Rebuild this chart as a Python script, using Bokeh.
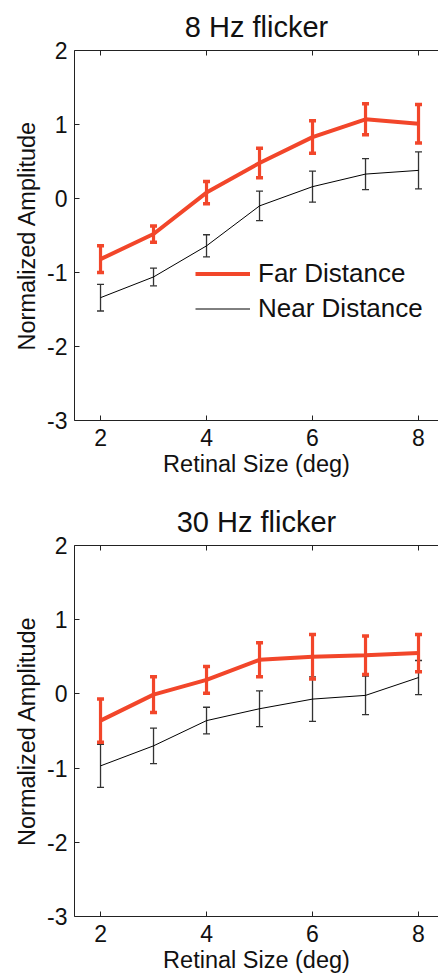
from bokeh.plotting import figure
from bokeh.models import (ColumnDataSource, Whisker, TeeHead, LinearAxis, Legend,
                          LegendItem, Range1d, FixedTicker)
from bokeh.layouts import column
from bokeh.embed import file_html
from bokeh.resources import INLINE

# ---------------- data ----------------
retinal_size = [2, 3, 4, 5, 6, 7, 8]

far_8hz = [-0.82, -0.48, 0.08, 0.48, 0.83, 1.07, 1.01]
far_8hz_err = [0.18, 0.11, 0.15, 0.20, 0.22, 0.21, 0.26]
near_8hz = [-1.34, -1.06, -0.64, -0.10, 0.16, 0.33, 0.38]
near_8hz_err = [0.18, 0.12, 0.15, 0.20, 0.21, 0.21, 0.25]

far_30hz = [-0.36, -0.01, 0.19, 0.46, 0.50, 0.52, 0.55]
far_30hz_err = [0.29, 0.24, 0.18, 0.23, 0.30, 0.26, 0.25]
near_30hz = [-0.97, -0.70, -0.36, -0.20, -0.07, -0.02, 0.22]
near_30hz_err = [0.29, 0.24, 0.18, 0.24, 0.30, 0.26, 0.23]

x_ticks = [2, 4, 6, 8]
y_ticks = [-3, -2, -1, 0, 1, 2]
y_tick_labels = {-3: "-3", -2: "-2", -1: "-1", 0: "0", 1: "1", 2: "2"}

ORANGE = "#F2462A"
FONT = "Liberation Sans"


def make_panel(title, far, far_err, near, near_err, height, top_border, bottom_border,
               with_legend):
    p = figure(width=438, height=height, output_backend="svg", toolbar_location=None,
               x_range=Range1d(1.509, 8.377), y_range=Range1d(-3, 2),
               min_border_left=74, min_border_right=0,
               min_border_top=top_border, min_border_bottom=bottom_border)
    p.outline_line_color = None
    p.grid.visible = False
    p.background_fill_color = "white"

    p.title.text = title
    p.title.text_font = FONT
    p.title.text_font_size = "29px"
    p.title.text_font_style = "normal"
    p.title.align = "center"
    p.title.text_color = "#111111"
    p.title.standoff = 15

    for ax in (p.xaxis[0], p.yaxis[0]):
        ax.major_label_text_font = FONT
        ax.major_label_text_font_size = "23px"
        ax.major_label_text_color = "#111111"
        ax.axis_label_text_font = FONT
        ax.axis_label_text_font_size = "23.5px"
        ax.axis_label_text_font_style = "normal"
        ax.axis_label_text_color = "#111111"
        ax.major_tick_in = 5
        ax.major_tick_out = 0
        ax.minor_tick_in = 0
        ax.minor_tick_out = 0
        ax.axis_line_color = "#222222"
        ax.major_tick_line_color = "#222222"
    p.xaxis[0].ticker = FixedTicker(ticks=x_ticks)
    p.yaxis[0].ticker = FixedTicker(ticks=y_ticks)
    p.yaxis[0].major_label_overrides = y_tick_labels
    p.xaxis[0].axis_label = "Retinal Size (deg)"
    p.yaxis[0].axis_label = "Normalized Amplitude"
    p.xaxis[0].major_label_standoff = 8
    p.xaxis[0].axis_label_standoff = 2
    p.yaxis[0].major_label_standoff = 7
    p.yaxis[0].axis_label_standoff = 4

    top = LinearAxis(ticker=FixedTicker(ticks=x_ticks), major_label_text_font_size="2px",
                     major_label_text_color=None,
                     major_tick_in=5, major_tick_out=0, minor_tick_in=0, minor_tick_out=0,
                     axis_line_color="#222222", major_tick_line_color="#222222",
                     major_label_standoff=0)
    p.add_layout(top, "above")

    src_far = ColumnDataSource(dict(x=retinal_size, y=far,
                                    lo=[a - b for a, b in zip(far, far_err)],
                                    hi=[a + b for a, b in zip(far, far_err)]))
    src_near = ColumnDataSource(dict(x=retinal_size, y=near,
                                     lo=[a - b for a, b in zip(near, near_err)],
                                     hi=[a + b for a, b in zip(near, near_err)]))

    near_line = p.line("x", "y", source=src_near, line_color="black", line_width=1)
    wn = Whisker(base="x", lower="lo", upper="hi", source=src_near,
                 line_color="#333333", line_width=1.3,
                 upper_head=TeeHead(size=7, line_color="#333333", line_width=1.3),
                 lower_head=TeeHead(size=7, line_color="#333333", line_width=1.3))
    p.add_layout(wn)

    far_line = p.line("x", "y", source=src_far, line_color=ORANGE, line_width=4)
    wf = Whisker(base="x", lower="lo", upper="hi", source=src_far,
                 line_color=ORANGE, line_width=3.2,
                 upper_head=TeeHead(size=7, line_color=ORANGE, line_width=3.5),
                 lower_head=TeeHead(size=7, line_color=ORANGE, line_width=3.5))
    p.add_layout(wf)

    if with_legend:
        leg = Legend(items=[LegendItem(label="Far Distance", renderers=[far_line]),
                            LegendItem(label="Near Distance", renderers=[near_line])],
                     location=(121, 94), padding=0, margin=0, spacing=0,
                     glyph_width=55, glyph_height=35, label_height=35,
                     label_standoff=8, border_line_color=None,
                     background_fill_alpha=0,
                     label_text_font=FONT, label_text_font_size="26px",
                     label_text_color="#111111")
        p.add_layout(leg, "center")
    return p


p1 = make_panel("8 Hz flicker", far_8hz, far_8hz_err, near_8hz, near_8hz_err,
                height=490, top_border=50, bottom_border=70, with_legend=True)
p2 = make_panel("30 Hz flicker", far_30hz, far_30hz_err, near_30hz, near_30hz_err,
                height=485, top_border=55, bottom_border=59, with_legend=False)

layout = column(p1, p2, spacing=0)
open("out.html", "w").write(file_html(layout, INLINE))
